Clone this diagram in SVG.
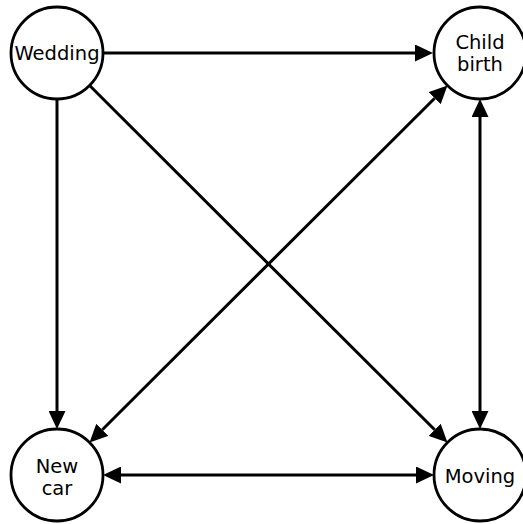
<svg xmlns="http://www.w3.org/2000/svg" width="523" height="524" viewBox="0 0 523 524">
<style>
.node circle{fill:#fff;stroke:#000;stroke-width:2.8}
.node text{font-family:"DejaVu Sans",sans-serif;font-size:19.5px;fill:#000;text-anchor:middle}
.edges line{stroke:#000;stroke-width:3}
</style>
<defs>
<marker id="ah" markerUnits="userSpaceOnUse" markerWidth="18" markerHeight="17" viewBox="0 0 18 17" refX="0" refY="8.5" orient="auto-start-reverse">
<path d="M0,0 L18,8.5 L0,17 z" fill="#000"/>
</marker>
</defs>
<rect width="523" height="524" fill="#fff"/>
<g class="edges">
<line x1="103" y1="53" x2="415" y2="53" marker-end="url(#ah)"/>
<line x1="57" y1="99" x2="57" y2="411" marker-end="url(#ah)"/>
<line x1="89.6" y1="85.5" x2="434.7" y2="429.8" marker-end="url(#ah)"/>
<line x1="434.7" y1="98.2" x2="102.3" y2="429.8" marker-start="url(#ah)" marker-end="url(#ah)"/>
<line x1="480" y1="117" x2="480" y2="411" marker-start="url(#ah)" marker-end="url(#ah)"/>
<line x1="121" y1="475" x2="416" y2="475" marker-start="url(#ah)" marker-end="url(#ah)"/>
</g>
<g id="wedding" class="node"><circle cx="57" cy="53" r="46"/><text x="57" y="60">Wedding</text></g>
<g id="childbirth" class="node"><circle cx="480" cy="53" r="46"/><text x="480" y="49">Child</text><text x="480" y="71">birth</text></g>
<g id="newcar" class="node"><circle cx="57" cy="475" r="46"/><text x="57" y="473">New</text><text x="57" y="495">car</text></g>
<g id="moving" class="node"><circle cx="480" cy="475" r="46"/><text x="480" y="483">Moving</text></g>
</svg>
